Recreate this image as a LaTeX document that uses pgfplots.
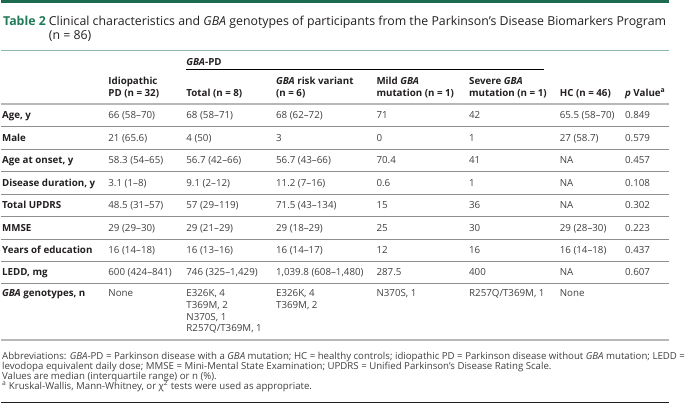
\documentclass[border=0pt]{standalone}
\usepackage{pgfplots}
\pgfplotsset{compat=1.18}
\usepackage{fontspec}
\setmainfont{Open Sans}
\definecolor{topgreen}{HTML}{1D6B4F}
\definecolor{titlegreen}{HTML}{1F7A57}
\definecolor{rulegreen}{HTML}{8DB8A7}
\definecolor{thickgray}{HTML}{B8B8B8}
\definecolor{thingray}{HTML}{8E8E8E}
\definecolor{txt}{HTML}{231F20}
\definecolor{dat}{HTML}{404040}
\tikzset{hd/.style={anchor=base west, inner sep=0, font=\fontsize{10}{12}\selectfont\bfseries, text=txt}}
\tikzset{dv/.style={anchor=base west, inner sep=0, font=\fontsize{10}{12}\selectfont, text=dat}}
\tikzset{lb/.style={anchor=base west, inner sep=0, font=\fontsize{10}{12}\selectfont\bfseries, text=txt}}
\tikzset{fn/.style={anchor=base west, inner sep=0, font=\fontsize{9.9}{10}\selectfont, text=dat}}
\newcommand{\trow}[9]{%
  \node[lb] at (axis cs:1,#1) {#2};
  \node[dv] at (axis cs:110,#1) {#3};
  \node[dv] at (axis cs:190,#1) {#4};
  \node[dv] at (axis cs:282,#1) {#5};
  \node[dv] at (axis cs:385,#1) {#6};
  \node[dv] at (axis cs:480,#1) {#7};
  \node[dv] at (axis cs:573,#1) {#8};
  \node[dv] at (axis cs:640,#1) {#9};}
\newcommand{\rowline}[1]{\draw[thingray, line width=0.6pt] (axis cs:0,#1) -- (axis cs:685,#1);}
\begin{document}
\begin{tikzpicture}
\begin{axis}[
  width=685pt, height=421pt, scale only axis,
  xmin=0, xmax=685, ymin=0, ymax=421, y dir=reverse,
  hide axis, clip=false,
]
\path (axis cs:0,0) rectangle (axis cs:685,421);
\fill[topgreen] (axis cs:0,0) rectangle (axis cs:685,3);
\node[anchor=base west, inner sep=0, font=\fontsize{12.65}{14}\selectfont\bfseries, text=titlegreen] at (axis cs:2,26) {Table 2};
\node[anchor=base west, inner sep=0, font=\fontsize{12.65}{14}\selectfont, text=txt] at (axis cs:49,26) {Clinical characteristics and \textit{GBA} genotypes of participants from the Parkinson’s Disease Biomarkers Program};
\node[anchor=base west, inner sep=0, font=\fontsize{12.65}{14}\selectfont, text=txt] at (axis cs:49,40.5) {(n = 86)};
\draw[rulegreen, line width=1.2pt] (axis cs:0,52) -- (axis cs:685,52);
\node[hd] at (axis cs:190,67) {\textit{GBA}-PD};
\draw[black, line width=0.8pt] (axis cs:190,71) -- (axis cs:557,71);
\node[hd] at (axis cs:110,86.5) {Idiopathic};
\node[hd] at (axis cs:282,86.5) {\textit{GBA} risk variant};
\node[hd] at (axis cs:385,86.5) {Mild \textit{GBA}};
\node[hd] at (axis cs:480,86.5) {Severe \textit{GBA}};
\node[hd] at (axis cs:110,98.5) {PD (n = 32)};
\node[hd] at (axis cs:190,98.5) {Total (n = 8)};
\node[hd] at (axis cs:282,98.5) {(n = 6)};
\node[hd] at (axis cs:385,98.5) {mutation (n = 1)};
\node[hd] at (axis cs:480,98.5) {mutation (n = 1)};
\node[hd] at (axis cs:573,98.5) {HC (n = 46)};
\node[hd] at (axis cs:640,98.5) {\textit{p} Value\textsuperscript{a}};
\draw[thickgray, line width=2pt] (axis cs:0,107) -- (axis cs:685,107);
\rowline{130}\rowline{153}\rowline{176}\rowline{199}\rowline{222}\rowline{245}\rowline{268}\rowline{291}
\trow{122}{Age, y}{66 (58–70)}{68 (58–71)}{68 (62–72)}{71}{42}{65.5 (58–70)}{0.849}
\trow{145}{Male}{21 (65.6)}{4 (50)}{3}{0}{1}{27 (58.7)}{0.579}
\trow{168}{Age at onset, y}{58.3 (54–65)}{56.7 (42–66)}{56.7 (43–66)}{70.4}{41}{NA}{0.457}
\trow{191}{Disease duration, y}{3.1 (1–8)}{9.1 (2–12)}{11.2 (7–16)}{0.6}{1}{NA}{0.108}
\trow{214}{Total UPDRS}{48.5 (31–57)}{57 (29–119)}{71.5 (43–134)}{15}{36}{NA}{0.302}
\trow{237}{MMSE}{29 (29–30)}{29 (21–29)}{29 (18–29)}{25}{30}{29 (28–30)}{0.223}
\trow{260}{Years of education}{16 (14–18)}{16 (13–16)}{16 (14–17)}{12}{16}{16 (14–18)}{0.437}
\trow{283}{LEDD, mg}{600 (424–841)}{746 (325–1,429)}{1,039.8 (608–1,480)}{287.5}{400}{NA}{0.607}
\node[lb] at (axis cs:1,304.5) {\textit{GBA} genotypes, n};
\node[dv] at (axis cs:110,304.5) {None};
\node[dv] at (axis cs:190,304.5) {E326K, 4};
\node[dv] at (axis cs:190,316.5) {T369M, 2};
\node[dv] at (axis cs:190,328.5) {N370S, 1};
\node[dv] at (axis cs:190,340.5) {R257Q/T369M, 1};
\node[dv] at (axis cs:282,304.5) {E326K, 4};
\node[dv] at (axis cs:282,316.5) {T369M, 2};
\node[dv] at (axis cs:385,304.5) {N370S, 1};
\node[dv] at (axis cs:480,304.5) {R257Q/T369M, 1};
\node[dv] at (axis cs:573,304.5) {None};
\draw[thickgray, line width=2pt] (axis cs:0,349) -- (axis cs:685,349);
\node[fn] at (axis cs:1,369) {Abbreviations: \textit{GBA}-PD = Parkinson disease with a \textit{GBA} mutation; HC = healthy controls; idiopathic PD = Parkinson disease without \textit{GBA} mutation; LEDD =};
\node[fn] at (axis cs:1,379) {levodopa equivalent daily dose; MMSE = Mini-Mental State Examination; UPDRS = Unified Parkinson’s Disease Rating Scale.};
\node[fn] at (axis cs:1,389) {Values are median (interquartile range) or n (\%).};
\node[fn] at (axis cs:1,399) {\textsuperscript{a} Kruskal-Wallis, Mann-Whitney, or χ\textsuperscript{2} tests were used as appropriate.};
\draw[txt, line width=1.5pt] (axis cs:0,413) -- (axis cs:685,413);
\end{axis}
\end{tikzpicture}
\end{document}
